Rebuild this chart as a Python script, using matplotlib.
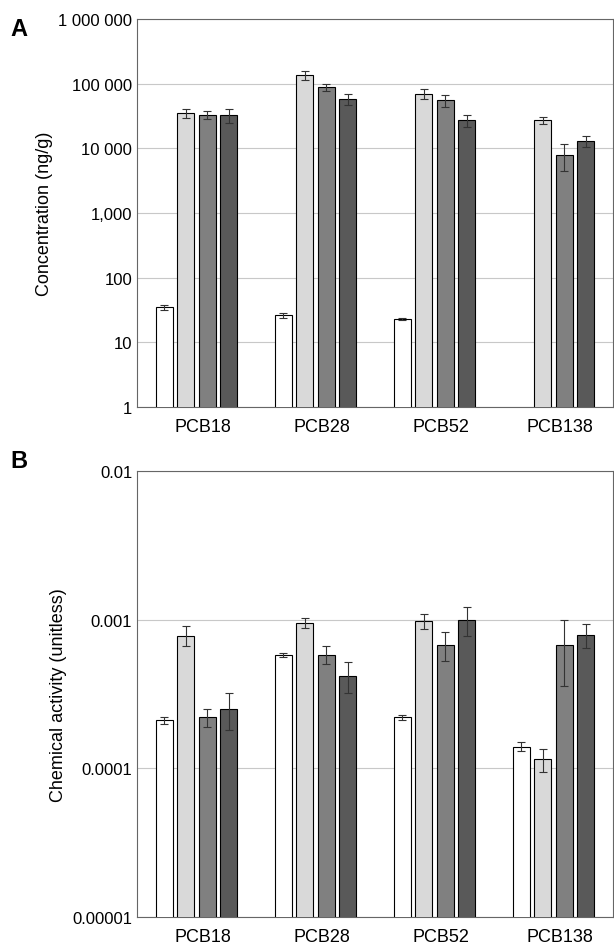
import numpy as np
import matplotlib.pyplot as plt
from matplotlib.ticker import FixedLocator, FixedFormatter, NullLocator

plt.rcParams['font.family'] = ['Liberation Sans', 'DejaVu Sans']

groups = ['PCB18', 'PCB28', 'PCB52', 'PCB138']
colors = ['white', '#d9d9d9', '#808080', '#595959']

conc = [[35, 35000, 33000, 33000],
        [26, 135000, 88000, 58000],
        [23, 70000, 55000, 27000],
        [np.nan, 27000, 8000, 13000]]
conc_err = [[3, 6000, 4500, 8000],
            [2, 20000, 10000, 12000],
            [1, 12000, 12000, 6000],
            [np.nan, 3000, 3500, 2500]]

act = [[0.00021, 0.00078, 0.00022, 0.00025],
       [0.00058, 0.00095, 0.00058, 0.00042],
       [0.00022, 0.00098, 0.00068, 0.0010],
       [0.00014, 0.000115, 0.00068, 0.00079]]
act_err = [[0.00001, 0.00012, 0.00003, 0.00007],
           [0.00002, 0.00007, 0.00008, 0.0001],
           [0.00001, 0.00011, 0.00015, 0.00022],
           [0.00001, 0.00002, 0.00032, 0.00015]]


def panel(ax, vals, errs, ymin, ymax, ticks, labels, ylabel):
    x = np.arange(len(groups))
    vals = np.array(vals)
    errs = np.array(errs)
    for i in range(4):
        ax.bar(x + (i - 1.5) * 0.18, vals[:, i], width=0.145, color=colors[i],
               edgecolor='black', linewidth=0.8, zorder=3,
               yerr=errs[:, i], error_kw=dict(ecolor='#333333', elinewidth=0.8, capsize=3, capthick=0.8))
    ax.set_yscale('log')
    ax.set_ylim(ymin, ymax)
    ax.set_xlim(-0.5, 3.5)
    ax.yaxis.set_major_locator(FixedLocator(ticks))
    ax.yaxis.set_major_formatter(FixedFormatter(labels))
    ax.yaxis.set_minor_locator(NullLocator())
    ax.grid(axis='y', color='#c8c8c8', linewidth=0.8, zorder=0)
    ax.set_xticks(x + 0.05)
    ax.set_xticklabels(groups, fontsize=13)
    ax.tick_params(axis='x', length=0, pad=8)
    ax.tick_params(axis='y', labelsize=12, length=0)
    ax.set_ylabel(ylabel, fontsize=13)
    for s in ax.spines.values():
        s.set_color('#666666')


fig = plt.figure(figsize=(6.14, 9.53), dpi=100)
ax1 = fig.add_axes([137 / 614, 1 - 408 / 953, 476 / 614, 388 / 953])
ax2 = fig.add_axes([137 / 614, 1 - 918 / 953, 476 / 614, 446 / 953])
panel(ax1, conc, conc_err, 1, 1e6, [1, 10, 100, 1e3, 1e4, 1e5, 1e6],
      ['1', '10', '100', '1,000', '10 000', '100 000', '1 000 000'], 'Concentration (ng/g)')
panel(ax2, act, act_err, 1e-5, 1e-2, [1e-5, 1e-4, 1e-3, 1e-2],
      ['0.00001', '0.0001', '0.001', '0.01'], 'Chemical activity (unitless)')
fig.text(10 / 614, 1 - 30 / 953, 'A', fontsize=17, fontweight='bold', va='center')
fig.text(10 / 614, 1 - 462 / 953, 'B', fontsize=17, fontweight='bold', va='center')
fig.savefig('out.png', dpi=100)
